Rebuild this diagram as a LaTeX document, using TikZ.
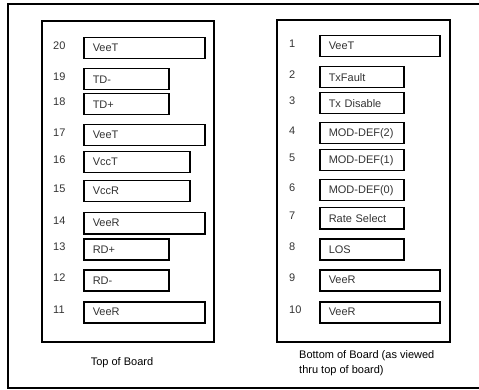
\documentclass[tikz,border=0pt]{standalone}
\usepackage{fontspec}
\setmainfont{Liberation Sans}
\usetikzlibrary{positioning}
\tikzset{
  pin/box/.style={draw, line width=1.5pt, anchor=north west, minimum height=21pt,
    inner xsep=9pt, inner ysep=0pt, align=left, font=\fontsize{11}{13}\selectfont, text=black!80},
  pin/num/.style={anchor=west, inner sep=0pt, font=\fontsize{11}{13}\selectfont, text=black!80},
  board/frame/.style={draw, line width=1.1pt},
  board/caption/.style={inner sep=0pt, align=left, font=\fontsize{11}{15}\selectfont}
}
\begin{document}
\begin{tikzpicture}[x=1pt, y=-1pt]
  \useasboundingbox (0,0) rectangle (479,390);
  % outer frame (right side runs off the page)
  \draw[line width=1.4pt] (479,4) -- (8,4) -- (8,388) -- (479,388);

  % top of board
  \draw[board/frame] (42,21) rectangle (214,342);
  \foreach \n/\lab/\y/\w in {20/VeeT/37/121, 19/TD-/68/85, 18/TD+/93/85,
      17/VeeT/124/121, 16/VccT/151/106, 15/VccR/180/106, 14/VeeR/212/121,
      13/RD+/238/85, 12/RD-/269/85, 11/VeeR/301/121} {
    \node[pin/box, minimum width=\w pt, text width=\w pt-18pt] (l\n) at (83,\y) {\lab};
    \node[pin/num] (nl\n) at (53,\y+9) {\n};
  }
  \node[board/caption] (top) at (122,363) {Top of Board};

  % bottom of board
  \draw[board/frame] (277,20) rectangle (450,342);
  \foreach \n/\lab/\y/\w in {1/VeeT/35/120, 2/TxFault/66/84, 3/Tx Disable/92/84,
      4/MOD-DEF(2)/122/84, 5/MOD-DEF(1)/149/84, 6/MOD-DEF(0)/179/84,
      7/Rate Select/207/84, 8/LOS/238/84, 9/VeeR/269/120, 10/VeeR/301/120} {
    \node[pin/box, minimum width=\w pt, text width=\w pt-18pt] (r\n) at (319,\y) {\lab};
    \node[pin/num] (nr\n) at (289,\y+9) {\n};
  }
  \node[board/caption, anchor=north west] (bottom) at (299,350)
    {Bottom of Board (as viewed\\thru top of board)};
\end{tikzpicture}
\end{document}
